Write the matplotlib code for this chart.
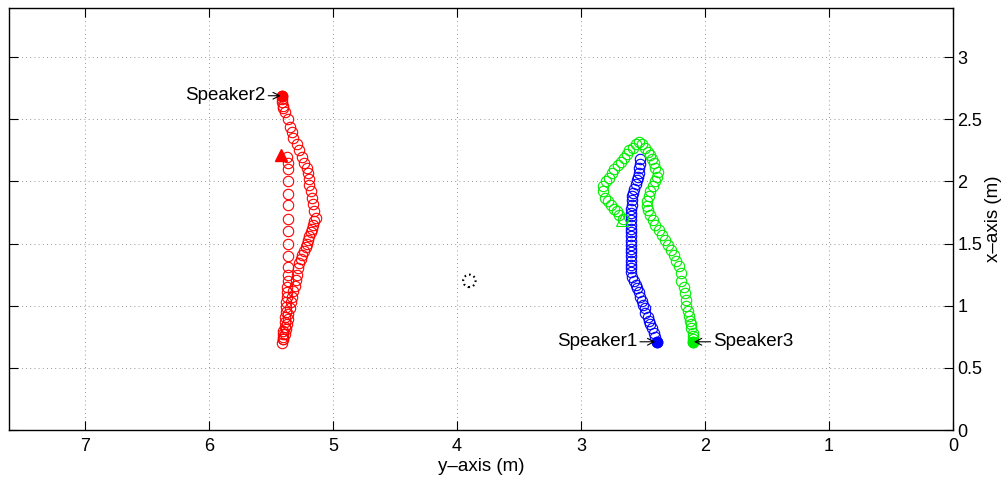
import matplotlib
matplotlib.use("Agg")
import matplotlib.pyplot as plt
from matplotlib.patches import Circle

plt.rcParams['font.family'] = ['Liberation Sans', 'DejaVu Sans']

# Estimated speaker tracks: horizontal = y-axis position (m), vertical = x-axis position (m)
spk1_y = [2.39, 2.40, 2.41, 2.43, 2.44, 2.45, 2.46, 2.48, 2.48, 2.50, 2.51, 2.52,
          2.53, 2.55, 2.56, 2.57, 2.59, 2.60, 2.60, 2.60, 2.60, 2.60, 2.60, 2.60,
          2.60, 2.60, 2.60, 2.60, 2.60, 2.60, 2.60, 2.60, 2.60, 2.60, 2.59, 2.59,
          2.59, 2.58, 2.57, 2.56, 2.55, 2.54, 2.53, 2.53, 2.52, 2.52]
spk1_x = [0.71, 0.75, 0.78, 0.82, 0.85, 0.88, 0.91, 0.94, 0.98, 1.01, 1.04, 1.07,
          1.11, 1.14, 1.17, 1.20, 1.23, 1.27, 1.30, 1.33, 1.36, 1.40, 1.43, 1.46,
          1.49, 1.52, 1.56, 1.59, 1.62, 1.65, 1.69, 1.72, 1.75, 1.78, 1.81, 1.85,
          1.88, 1.91, 1.94, 1.98, 2.01, 2.04, 2.07, 2.11, 2.14, 2.18]

spk2_y = [5.41, 5.41, 5.41, 5.40, 5.40, 5.39, 5.36, 5.35, 5.33, 5.32, 5.29, 5.27,
          5.25, 5.23, 5.21, 5.20, 5.19, 5.19, 5.18, 5.17, 5.16, 5.15, 5.14, 5.15,
          5.16, 5.17, 5.18, 5.19, 5.20, 5.21, 5.22, 5.23, 5.25, 5.26, 5.27, 5.28,
          5.29, 5.30, 5.31, 5.32, 5.33, 5.34, 5.35, 5.36, 5.36, 5.37, 5.38, 5.39,
          5.40, 5.40, 5.41,
          5.40, 5.40, 5.40, 5.39, 5.39, 5.39, 5.38, 5.38, 5.38, 5.37, 5.37, 5.37,
          5.36, 5.36, 5.36, 5.36, 5.36, 5.36, 5.36, 5.36, 5.36, 5.36, 5.36, 5.36,
          5.37]
spk2_x = [2.69, 2.66, 2.64, 2.61, 2.59, 2.56, 2.50, 2.44, 2.40, 2.35, 2.30, 2.25,
          2.20, 2.15, 2.11, 2.07, 2.02, 1.97, 1.92, 1.87, 1.82, 1.76, 1.71, 1.68,
          1.65, 1.62, 1.59, 1.56, 1.53, 1.50, 1.47, 1.44, 1.41, 1.38, 1.34, 1.30,
          1.25, 1.21, 1.16, 1.12, 1.07, 1.03, 0.98, 0.93, 0.89, 0.85, 0.81, 0.77,
          0.75, 0.73, 0.70,
          0.73, 0.77, 0.80, 0.83, 0.87, 0.91, 0.95, 0.99, 1.03, 1.07, 1.11, 1.15,
          1.20, 1.25, 1.31, 1.40, 1.50, 1.60, 1.70, 1.81, 1.90, 2.00, 2.10, 2.15,
          2.20]

spk3_y = [2.10, 2.10, 2.10, 2.10, 2.11, 2.11, 2.12, 2.13, 2.14, 2.15, 2.15, 2.16,
          2.17, 2.19, 2.19, 2.21, 2.23, 2.25, 2.27, 2.30, 2.32, 2.35, 2.37, 2.40,
          2.42, 2.44, 2.46, 2.47, 2.47, 2.45, 2.44, 2.42, 2.40, 2.39, 2.38, 2.40,
          2.41, 2.43, 2.44, 2.46, 2.48, 2.51, 2.53, 2.56, 2.58, 2.61, 2.63, 2.65,
          2.68, 2.70, 2.73, 2.75, 2.77, 2.80, 2.82, 2.82, 2.81, 2.78, 2.76, 2.73,
          2.71, 2.69, 2.66]
spk3_x = [0.71, 0.73, 0.76, 0.78, 0.82, 0.85, 0.88, 0.92, 0.96, 1.00, 1.05, 1.10,
          1.15, 1.20, 1.26, 1.32, 1.36, 1.41, 1.45, 1.49, 1.53, 1.57, 1.61, 1.65,
          1.69, 1.73, 1.77, 1.80, 1.84, 1.88, 1.92, 1.96, 2.00, 2.04, 2.08, 2.11,
          2.15, 2.18, 2.21, 2.24, 2.27, 2.30, 2.32, 2.30, 2.27, 2.25, 2.22, 2.19,
          2.16, 2.13, 2.10, 2.07, 2.03, 2.00, 1.96, 1.92, 1.87, 1.84, 1.81, 1.78,
          1.76, 1.73, 1.70]

# Final position markers
spk2_end = (5.42, 2.21)
spk3_end = (2.67, 1.69)

# Microphone array centre
mic_y, mic_x, mic_r = 3.90, 1.20, 0.05

fig = plt.figure(figsize=(10.06, 4.78), dpi=100)
ax = fig.add_axes([0.0089, 0.1004, 0.9384, 0.8839])

ms, mew = 7.5, 0.8
ax.plot(spk1_y, spk1_x, 'o', ls='none', mfc='none', mec='blue', ms=ms, mew=mew)
ax.plot(spk3_y, spk3_x, 'o', ls='none', mfc='none', mec='#00ee00', ms=ms, mew=mew)
ax.plot(spk2_y, spk2_x, 'o', ls='none', mfc='none', mec='red', ms=ms, mew=mew)

ax.plot(spk1_y[0], spk1_x[0], 'o', color='blue', ms=ms)
ax.plot(spk3_y[0], spk3_x[0], 'o', color='#00ee00', ms=ms)
ax.plot(spk2_y[0], spk2_x[0], 'o', color='red', ms=ms)

ax.plot(*spk2_end, '^', color='red', ms=8)
ax.plot(*spk3_end, '^', mfc='none', mec='#00ee00', ms=8, mew=mew)

ax.add_patch(Circle((mic_y, mic_x), mic_r, fill=False, ec='black', lw=1.5,
                    ls=(0, (0.8, 1.5))))

arrow = dict(arrowstyle='->,head_length=0.35,head_width=0.18', lw=0.8,
             color='black', shrinkA=0, shrinkB=1)
fs = 13.5
ax.annotate('Speaker2', xy=(spk2_y[0], spk2_x[0]), xytext=(-12, 0),
            textcoords='offset points', ha='right', va='center', fontsize=fs,
            arrowprops=arrow)
ax.annotate('Speaker1', xy=(spk1_y[0], spk1_x[0]), xytext=(-14, 0),
            textcoords='offset points', ha='right', va='center', fontsize=fs,
            arrowprops=arrow)
ax.annotate('Speaker3', xy=(spk3_y[0], spk3_x[0]), xytext=(15, 0),
            textcoords='offset points', ha='left', va='center', fontsize=fs,
            arrowprops=arrow)

ax.set_xlim(7.613, 0)
ax.set_ylim(0, 3.40)
ax.set_xticks(range(0, 8))
ax.set_yticks([0, 0.5, 1, 1.5, 2, 2.5, 3])
ax.set_yticklabels(['0', '0.5', '1', '1.5', '2', '2.5', '3'])
ax.yaxis.tick_right()
ax.yaxis.set_label_position('right')
ax.tick_params(direction='in', length=6.5, width=0.8, top=True, bottom=True,
               left=True, right=True, labelsize=13)
ax.tick_params(axis='x', pad=6)
ax.tick_params(axis='y', pad=3)
ax.set_xlabel('y–axis (m)', fontsize=fs, labelpad=2)
ax.set_ylabel('x–axis (m)', fontsize=fs, labelpad=2)
for s in ax.spines.values():
    s.set_linewidth(1.0)
ax.grid(True, color='0.45', lw=0.6, ls=(0, (1, 4)))
ax.set_axisbelow(True)

fig.savefig('out.png', dpi=100)
